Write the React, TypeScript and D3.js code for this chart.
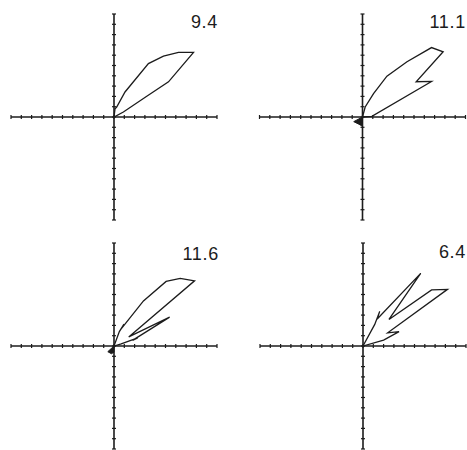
import React, { useEffect, useRef } from 'react';
import * as d3 from 'd3';

// polar shapes, in axis units ([x, y])
const labels = ['9.4', '11.1', '11.6', '6.4'];

const shape94: [number, number][] = [
  [0, 0], [0.1, 0.8], [0.26, 0.97], [1.07, 2.43], [3.34, 5.19], [4.8, 5.91],
  [6.26, 6.28], [7.72, 6.28], [5.29, 3.41], [3.18, 2.01], [0.91, 0.49],
];
const shape111: [number, number][] = [
  [0, 0], [0.26, 0.97], [1.07, 2.27], [2.37, 3.96], [4.32, 5.36], [6.7, 6.74],
  [7.83, 6.33], [5.21, 3.42], [6.7, 3.45], [0.91, 0.06],
];
const shape116: [number, number][] = [
  [0, 0], [0.52, 1.4], [0.97, 2.12], [0.66, 1.62], [2.86, 4.38], [5.06, 6.27],
  [6.43, 6.56], [7.82, 6.33], [1.43, 0.88], [5.4, 2.8], [1.8, 0.55],
  [2.3, 0.78], [0.7, 0.2],
];
const shape64: [number, number][] = [
  [0, 0], [1.14, 2.1], [1.62, 3.36], [1.38, 2.62], [5.6, 7.05], [2.52, 2.58],
  [6.66, 5.45], [8.2, 5.5], [2.4, 1.28], [3.5, 1.4], [2.0, 0.58],
];
// small dark tails at the origin
const tail111: [number, number][] = [[0, 0], [-0.85, -0.45], [-0.35, -0.7], [0, -0.9]];
const tail116: [number, number][] = [[0, 0], [-0.6, -0.55], [-0.25, -0.75], [0, -0.6]];

const shapes = [shape94, shape111, shape116, shape64];
const tails: [number, number][][] = [[], tail111, tail116, []];
const tickValues = d3.range(-10, 11);

const W = 467, H = 450;
// panel centres (pixels), half-size of the axes, label anchors
const centres = [[114, 117], [362.5, 117], [114, 346], [363, 346]];
const half = 103;
const labelPos = [[218, 28], [466, 28], [219, 260], [466, 258]];

function App() {
  const svgRef = useRef<SVGSVGElement>(null);

  useEffect(() => {
    const svg = d3.select(svgRef.current);
    svg.selectAll('*').remove();

    shapes.forEach((pts, i) => {
      const [cx, cy] = centres[i];
      const x = d3.scaleLinear().domain([-10, 10]).range([cx - half, cx + half]);
      const y = d3.scaleLinear().domain([-10, 10]).range([cy + half, cy - half]);
      const g = svg.append('g');

      // axes
      g.append('line')
        .attr('x1', x(-10)).attr('x2', x(10))
        .attr('y1', y(0)).attr('y2', y(0))
        .attr('stroke', '#1c1c1c').attr('stroke-width', 1.6);
      g.append('line')
        .attr('x1', x(0)).attr('x2', x(0))
        .attr('y1', y(-10)).attr('y2', y(10))
        .attr('stroke', '#1c1c1c').attr('stroke-width', 1.6);

      // tick marks crossing the axes
      g.selectAll('.tx')
        .data(tickValues)
        .enter().append('line')
        .attr('x1', d => x(d)).attr('x2', d => x(d))
        .attr('y1', y(0) - 2).attr('y2', y(0) + 2)
        .attr('stroke', '#1c1c1c').attr('stroke-width', 1.2);
      g.selectAll('.ty')
        .data(tickValues)
        .enter().append('line')
        .attr('x1', x(0) - 2).attr('x2', x(0) + 2)
        .attr('y1', d => y(d)).attr('y2', d => y(d))
        .attr('stroke', '#1c1c1c').attr('stroke-width', 1.2);

      const line = d3.line<[number, number]>()
        .x(d => x(d[0]))
        .y(d => y(d[1]))
        .curve(d3.curveLinearClosed);

      if (tails[i].length) {
        g.append('path')
          .attr('d', line(tails[i]))
          .attr('fill', '#1c1c1c')
          .attr('stroke', '#1c1c1c')
          .attr('stroke-width', 1);
      }

      g.append('path')
        .attr('d', line(pts))
        .attr('fill', 'none')
        .attr('stroke', '#1c1c1c')
        .attr('stroke-width', 1.3)
        .attr('stroke-linejoin', 'miter');

      // value label, top right
      g.append('text')
        .attr('x', labelPos[i][0])
        .attr('y', labelPos[i][1])
        .attr('text-anchor', 'end')
        .attr('font-family', 'Liberation Sans, Arial, sans-serif')
        .attr('font-size', 18)
        .attr('letter-spacing', 0.7)
        .attr('fill', '#1c1c1c')
        .text(labels[i]);
    });
  }, []);

  return (
    <svg ref={svgRef} width={W} height={H}
      style={{ position: 'absolute', left: 0, top: 0, background: '#fff' }}></svg>
  );
}

export default App;
